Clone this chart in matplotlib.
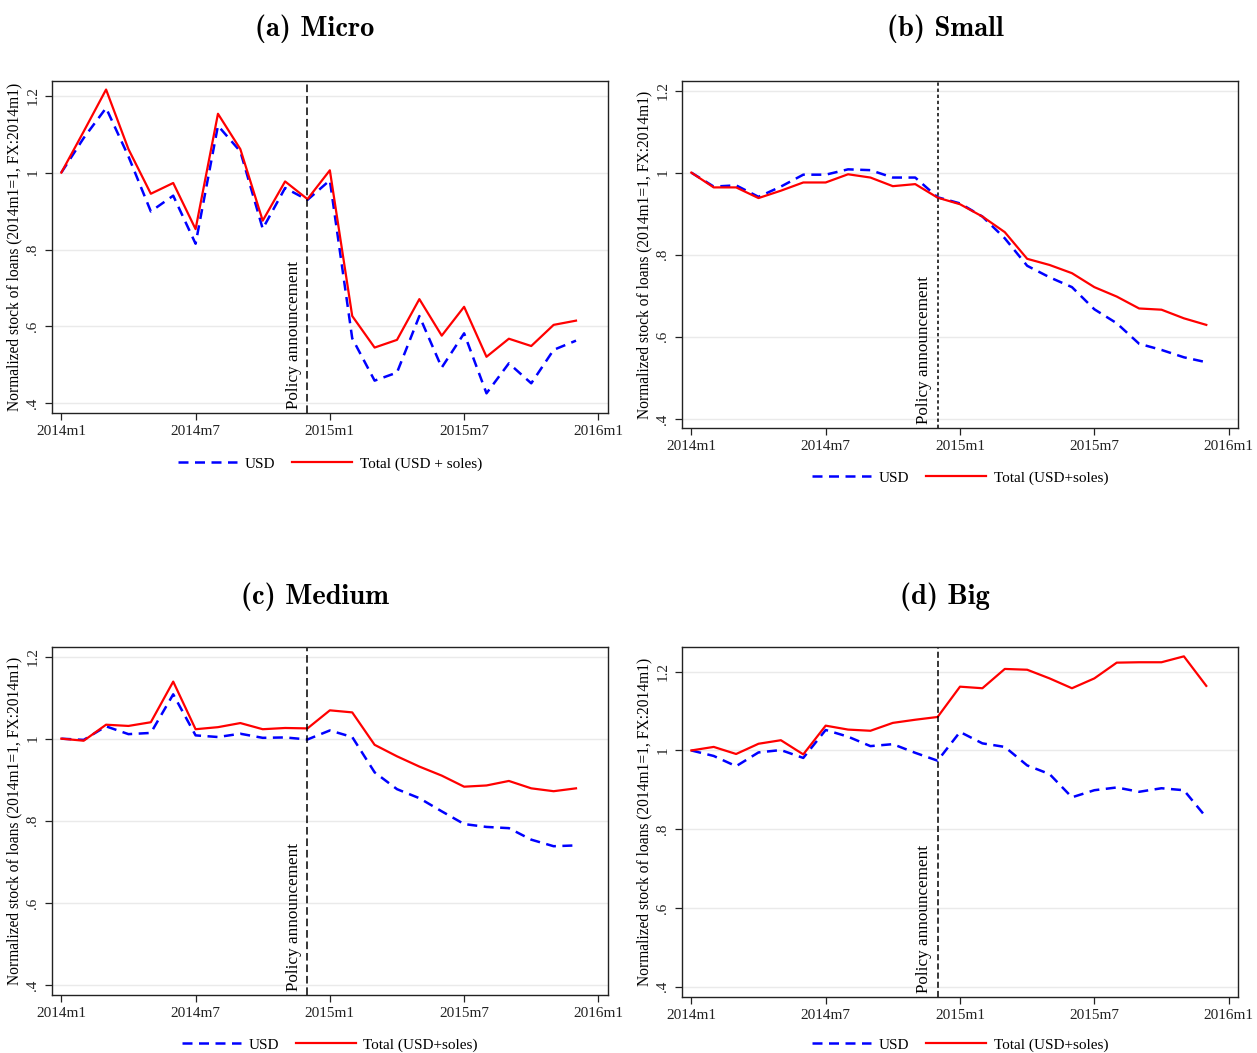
import matplotlib
matplotlib.use("Agg")
import matplotlib.pyplot as plt

plt.rcParams['font.family'] = ['Liberation Serif', 'DejaVu Serif']

# months since 2014m1 (0 = 2014m1, 23 = 2015m12)
months = list(range(24))
tick_pos = [0, 6, 12, 18, 24]
tick_lab = ["2014m1", "2014m7", "2015m1", "2015m7", "2016m1"]
y_ticks = [0.4, 0.6, 0.8, 1.0, 1.2]
y_lab = [".4", ".6", ".8", "1", "1.2"]
policy_month = 11

# (a) Micro
micro_usd = [1.0, 1.09, 1.168, 1.042, 0.899, 0.940, 0.815, 1.122, 1.055, 0.854, 0.960, 0.929,
             0.980, 0.569, 0.459, 0.480, 0.627, 0.493, 0.582, 0.426, 0.504, 0.452, 0.539, 0.563]
micro_tot = [1.0, 1.107, 1.216, 1.061, 0.945, 0.973, 0.853, 1.153, 1.061, 0.875, 0.977, 0.931,
             1.006, 0.627, 0.545, 0.565, 0.671, 0.576, 0.651, 0.521, 0.568, 0.549, 0.604, 0.615]
# (b) Small
small_usd = [1.0, 0.966, 0.969, 0.941, 0.966, 0.995, 0.995, 1.008, 1.006, 0.988, 0.988, 0.940,
             0.925, 0.893, 0.840, 0.773, 0.745, 0.721, 0.667, 0.633, 0.583, 0.568, 0.550, 0.538]
small_tot = [1.0, 0.964, 0.964, 0.938, 0.956, 0.976, 0.976, 0.996, 0.988, 0.967, 0.972, 0.939,
             0.923, 0.893, 0.855, 0.790, 0.775, 0.755, 0.721, 0.698, 0.669, 0.666, 0.645, 0.629]
# (c) Medium
medium_usd = [1.0, 0.997, 1.030, 1.011, 1.014, 1.108, 1.008, 1.004, 1.012, 1.002, 1.003, 0.998,
              1.020, 1.004, 0.918, 0.877, 0.855, 0.823, 0.792, 0.785, 0.782, 0.754, 0.738, 0.740]
medium_tot = [1.0, 0.995, 1.034, 1.031, 1.040, 1.139, 1.023, 1.028, 1.038, 1.023, 1.026, 1.025,
              1.069, 1.064, 0.985, 0.957, 0.932, 0.910, 0.883, 0.886, 0.897, 0.879, 0.872, 0.879]
# (d) Big
big_usd = [1.0, 0.986, 0.960, 0.995, 1.001, 0.981, 1.052, 1.035, 1.011, 1.016, 0.994, 0.974,
           1.047, 1.018, 1.009, 0.962, 0.940, 0.881, 0.899, 0.906, 0.895, 0.904, 0.899, 0.830]
big_tot = [1.0, 1.009, 0.991, 1.017, 1.026, 0.990, 1.063, 1.053, 1.050, 1.070, 1.078, 1.085,
           1.162, 1.158, 1.207, 1.205, 1.183, 1.158, 1.183, 1.223, 1.224, 1.224, 1.239, 1.164]

W, H = 1257, 1053
fig = plt.figure(figsize=(W / 100, H / 100), dpi=100)

# panel: title, usd, total, legend label, axes box (px), ylim, title pos, legend y, vline dash
panels = [
    ("(a) Micro", micro_usd, micro_tot, "Total (USD + soles)",
     (51.7, 80.7, 608, 412.7), (0.3756, 1.239), (315, 29), 464, (0, (5, 2.5))),
    ("(b) Small", small_usd, small_tot, "Total (USD+soles)",
     (681.7, 80.7, 1238.3, 428.3), (0.377, 1.224), (945, 29), 478, (0, (2.2, 1.8))),
    ("(c) Medium", medium_usd, medium_tot, "Total (USD+soles)",
     (51.7, 646.7, 608, 995), (0.3756, 1.224), (315, 597), 1045, (0, (5, 2.5))),
    ("(d) Big", big_usd, big_tot, "Total (USD+soles)",
     (681.7, 646.7, 1238.3, 996.7), (0.3746, 1.2635), (945, 597), 1045, (0, (4, 2))),
]

for title, usd, tot, tot_lab, box, ylim, tpos, leg_y, vdash in panels:
    x0, y0, x1, y1 = box
    ax = fig.add_axes([x0 / W, 1 - y1 / H, (x1 - x0) / W, (y1 - y0) / H])
    ax.set_xlim(-0.43, 24.43)
    ax.set_ylim(*ylim)
    ax.set_yticks(y_ticks)
    ax.set_yticklabels(y_lab, rotation=90, va="center")
    ax.set_xticks(tick_pos)
    ax.set_xticklabels(tick_lab)
    ax.tick_params(labelsize=11, length=5, width=0.9, colors="#222222")
    ax.tick_params(axis="y", pad=4)
    ax.grid(axis="y", color="#eaeaea", linewidth=1)
    ax.set_axisbelow(True)
    for s in ax.spines.values():
        s.set_linewidth(1)
        s.set_color("#222222")

    ax.plot(months, usd, color="blue", linestyle=(0, (4, 2.6)), linewidth=1.8, label="USD")
    ax.plot(months, tot, color="red", linewidth=1.6, label=tot_lab)
    ax.axvline(policy_month, color="black", linestyle=vdash, linewidth=1.1)
    ax.text(policy_month - 0.25, ylim[0] + 0.01, "Policy announcement", rotation=90,
            ha="right", va="bottom", fontsize=12.3)

    ax.set_ylabel("Normalized stock of loans (2014m1=1, FX:2014m1)", fontsize=11.2, labelpad=3)

    fig.text(tpos[0] / W, 1 - tpos[1] / H, title, ha="center", va="center",
             fontsize=20.5, family="cmb10")
    ax.legend(loc="center", bbox_to_anchor=(((x0 + x1) / 2) / W, 1 - leg_y / H),
              bbox_transform=fig.transFigure, ncol=2, frameon=False, fontsize=11,
              handlelength=3.9, handletextpad=0.5, columnspacing=1.1)

fig.savefig("out.png", dpi=100)
